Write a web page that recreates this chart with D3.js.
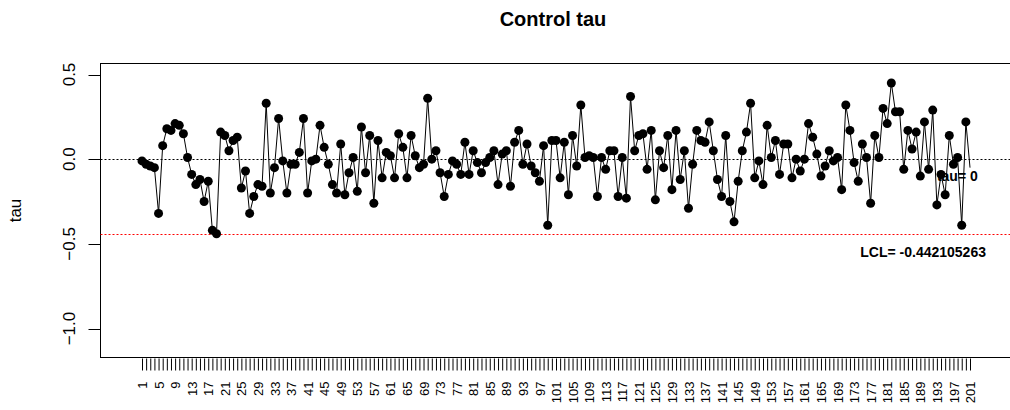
<!DOCTYPE html>
<html>
<head>
<meta charset="utf-8">
<script src="https://cdn.jsdelivr.net/npm/d3@7"></script>
<style>
  html, body { margin: 0; padding: 0; background: #fff; }
  svg { display: block; font-family: "Liberation Sans", Arial, sans-serif; }
</style>
</head>
<body>
<svg id="chart" width="1010" height="410"></svg>
<script>
// === Control chart for tau ===

const obsIndex = d3.range(1, 202);
const tauValues = [
  -0.01, -0.03, -0.04, -0.05, -0.32, 0.08, 0.18, 0.17, 0.21, 0.20,
  0.15, 0.01, -0.09, -0.15, -0.12, -0.25, -0.13, -0.42, -0.44, 0.16,
  0.14, 0.05, 0.11, 0.13, -0.17, -0.07, -0.32, -0.22, -0.15, -0.16,
  0.33, -0.20, -0.05, 0.24, -0.01, -0.20, -0.03, -0.03, 0.04, 0.24,
  -0.20, -0.01, 0.00, 0.20, 0.07, -0.03, -0.15, -0.20, 0.09, -0.21,
  -0.08, 0.01, -0.19, 0.19, -0.08, 0.14, -0.26, 0.11, -0.11, 0.04,
  0.02, -0.11, 0.15, 0.07, -0.11, 0.14, 0.02, -0.05, -0.03, 0.36,
  0.00, 0.05, -0.08, -0.22, -0.09, -0.01, -0.03, -0.09, 0.10, -0.09,
  0.05, -0.02, -0.08, -0.02, 0.01, 0.05, -0.15, 0.03, 0.05, -0.16,
  0.10, 0.17, -0.03, 0.09, -0.04, -0.08, -0.13, 0.08, -0.39, 0.11,
  0.11, -0.11, 0.10, -0.21, 0.14, -0.04, 0.32, 0.01, 0.02, 0.01,
  -0.22, 0.01, -0.06, 0.05, 0.05, -0.22, 0.01, -0.23, 0.37, 0.05,
  0.14, 0.15, -0.06, 0.17, -0.24, 0.05, -0.05, 0.14, -0.18, 0.17,
  -0.12, 0.05, -0.29, -0.03, 0.17, 0.11, 0.10, 0.22, 0.05, -0.12,
  -0.22, 0.14, -0.25, -0.37, -0.13, 0.05, 0.16, 0.33, -0.11, -0.01,
  -0.15, 0.20, 0.01, 0.11, -0.09, 0.09, 0.09, -0.11, 0.00, -0.07,
  0.00, 0.21, 0.13, 0.03, -0.10, -0.04, 0.05, -0.01, 0.01, -0.18,
  0.32, 0.17, -0.02, -0.13, 0.09, 0.01, -0.26, 0.14, 0.01, 0.30,
  0.21, 0.45, 0.28, 0.28, -0.06, 0.17, 0.06, 0.16, -0.10, 0.22,
  -0.06, 0.29, -0.27, -0.09, -0.21, 0.14, -0.03, 0.01, -0.39, 0.22,
  -0.05
];

// reference lines
const centerLine = 0;
const lcl = -0.442105263;

// axis ticks
const yTicks = [0.5, 0.0, -0.5, -1.0];
const xTickLabels = obsIndex.filter(i => (i - 1) % 4 === 0);

const svg = d3.select("#chart");
const box = { left: 100.5, top: 63.5, right: 1014, bottom: 357.5 };

const x = d3.scaleLinear().domain([1, 201]).range([142, 970]);
const y = d3.scaleLinear().domain([-1.171, 0.565]).range([box.bottom, box.top]);
const crisp = v => Math.round(v) + 0.5;

// title + axis title
svg.append("text")
  .attr("x", 553).attr("y", 26)
  .attr("text-anchor", "middle")
  .attr("font-size", 20).attr("font-weight", "bold")
  .text("Control tau");

svg.append("text")
  .attr("transform", `translate(21,${(box.top + box.bottom) / 2}) rotate(-90)`)
  .attr("text-anchor", "middle")
  .attr("font-size", 17)
  .text("tau");

// y axis, labels turned like R does by default
const yAxis = svg.append("g")
  .call(d3.axisLeft(y).tickValues(yTicks).tickSize(0).tickFormat(d3.format(".1f")));
yAxis.select(".domain").remove();
yAxis.selectAll(".tick").attr("transform", null);
yAxis.selectAll(".tick line")
  .attr("x1", box.left - 12).attr("x2", box.left)
  .attr("y1", d => crisp(y(d))).attr("y2", d => crisp(y(d)))
  .attr("stroke", "#000");
yAxis.selectAll(".tick text")
  .attr("font-size", 17).attr("fill", "#000")
  .attr("x", 0).attr("y", 0).attr("dy", "0.35em")
  .attr("text-anchor", "middle")
  .attr("transform", d => `translate(69,${y(d)}) rotate(-90)`);

// x axis: a tick for every index, a label on every 4th
const xAxis = svg.append("g").attr("transform", `translate(0,${box.bottom})`)
  .call(d3.axisBottom(x).tickValues(obsIndex).tickSize(13)
    .tickFormat(d => xTickLabels.includes(d) ? d : ""));
xAxis.select(".domain").remove();
xAxis.selectAll("line").attr("stroke", "#000").attr("y1", 1);
xAxis.selectAll("text")
  .attr("font-size", 13).attr("fill", "#000")
  .attr("transform", "rotate(-90)")
  .attr("x", -24).attr("y", 0).attr("dy", "0.35em")
  .attr("text-anchor", "end");

// plot box
svg.append("rect")
  .attr("x", box.left).attr("y", box.top)
  .attr("width", box.right - box.left).attr("height", box.bottom - box.top)
  .attr("fill", "none").attr("stroke", "#000").attr("stroke-width", 1);

// center line and LCL
svg.append("line")
  .attr("x1", box.left).attr("x2", box.right)
  .attr("y1", crisp(y(centerLine))).attr("y2", crisp(y(centerLine)))
  .attr("stroke", "#000").attr("stroke-dasharray", "2,2");
svg.append("line")
  .attr("x1", box.left).attr("x2", box.right)
  .attr("y1", crisp(y(lcl))).attr("y2", crisp(y(lcl)))
  .attr("stroke", "#ff0000").attr("stroke-dasharray", "2,2");

// series line + points
const series = obsIndex.map((i, k) => ({ i, v: tauValues[k] }));
svg.append("path")
  .datum(series)
  .attr("fill", "none").attr("stroke", "#000").attr("stroke-width", 1)
  .attr("d", d3.line().x(d => x(d.i)).y(d => y(d.v)));

svg.selectAll("circle.pt")
  .data(series.slice(0, 200))
  .enter().append("circle")
  .attr("class", "pt")
  .attr("cx", d => x(d.i)).attr("cy", d => y(d.v))
  .attr("r", 4.5).attr("fill", "#000");

// labels of the reference lines
svg.append("text")
  .attr("x", x(193)).attr("y", y(-0.1)).attr("dy", "0.35em")
  .attr("font-size", 14).attr("font-weight", "bold")
  .text("tau= " + centerLine);
svg.append("text")
  .attr("x", x(174.5)).attr("y", y(-0.55)).attr("dy", "0.35em")
  .attr("font-size", 14).attr("font-weight", "bold")
  .text("LCL= " + lcl);
</script>
</body>
</html>
